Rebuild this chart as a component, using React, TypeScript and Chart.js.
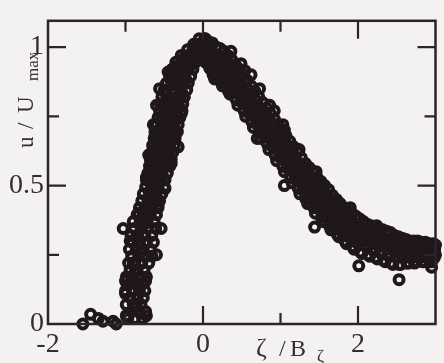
import { useEffect, useRef } from "react";
import { Chart, registerables } from "chart.js";

Chart.register(...registerables);

const xTickValues = [-2, -1, 0, 1, 2, 3];
const xTickLabels = ["-2", "", "0", "", "2", ""];
const yTickValues = [0, 0.25, 0.5, 0.75, 1];
const yTickLabels = ["0", "", "0.5", "", "1"];

// scattered points near the baseline, left of the rise
const baseScatter: [number, number][] = [
  [-1.55, 0.0], [-1.45, 0.035], [-1.35, 0.02], [-1.29, 0.01], [-1.16, 0.01], [-1.12, 0.0],
];

// rising side, lower half
const riseLower: [number, number][] = [
  [-0.97, 0.02], [-0.88, 0.02], [-0.78, 0.02],
  [-0.92, 0.045], [-0.83, 0.045], [-0.74, 0.045],
  [-0.99, 0.07], [-0.9, 0.07], [-0.8, 0.07],
  [-0.94, 0.095], [-0.85, 0.095], [-0.77, 0.095],
  [-1.0, 0.12], [-0.91, 0.12], [-0.82, 0.12], [-0.75, 0.12],
  [-0.95, 0.145], [-0.86, 0.145], [-0.78, 0.145],
  [-0.99, 0.17], [-0.9, 0.17], [-0.81, 0.17], [-0.73, 0.17],
  [-0.94, 0.195], [-0.85, 0.195], [-0.76, 0.195],
  [-0.96, 0.22], [-0.88, 0.22], [-0.79, 0.22], [-0.7, 0.22],
  [-0.92, 0.245], [-0.83, 0.245], [-0.74, 0.245], [-0.66, 0.245],
  [-0.95, 0.27], [-0.86, 0.27], [-0.77, 0.27], [-0.68, 0.27],
  [-0.91, 0.295], [-0.82, 0.295], [-0.73, 0.295], [-0.64, 0.295],
  [-0.93, 0.32], [-0.84, 0.32], [-0.75, 0.32], [-0.66, 0.32],
  [-0.89, 0.345], [-0.8, 0.345], [-0.71, 0.345], [-0.61, 0.345],
  [-0.9, 0.37], [-0.81, 0.37], [-0.72, 0.37], [-0.63, 0.37],
  [-0.85, 0.395], [-0.77, 0.395], [-0.68, 0.395], [-0.6, 0.395],
  [-0.82, 0.42], [-0.74, 0.42], [-0.66, 0.42], [-0.58, 0.42],
  [-0.79, 0.445], [-0.71, 0.445], [-0.63, 0.445], [-0.56, 0.445],
  [-0.77, 0.47], [-0.69, 0.47], [-0.61, 0.47], [-0.53, 0.47],
  [-0.74, 0.495], [-0.66, 0.495], [-0.58, 0.495], [-0.5, 0.495],
];

// rising side, upper half up to the peak
const riseUpper: [number, number][] = [
  [-0.73, 0.52], [-0.64, 0.52], [-0.56, 0.52], [-0.49, 0.52],
  [-0.71, 0.545], [-0.62, 0.545], [-0.54, 0.545], [-0.46, 0.545],
  [-0.69, 0.57], [-0.6, 0.57], [-0.52, 0.57], [-0.43, 0.57],
  [-0.68, 0.595], [-0.59, 0.595], [-0.5, 0.595], [-0.41, 0.595],
  [-0.66, 0.62], [-0.57, 0.62], [-0.48, 0.62], [-0.39, 0.62],
  [-0.65, 0.645], [-0.56, 0.645], [-0.47, 0.645], [-0.37, 0.645],
  [-0.63, 0.67], [-0.54, 0.67], [-0.45, 0.67], [-0.36, 0.67],
  [-0.62, 0.695], [-0.52, 0.695], [-0.43, 0.695], [-0.33, 0.695],
  [-0.6, 0.72], [-0.5, 0.72], [-0.41, 0.72], [-0.32, 0.72],
  [-0.58, 0.745], [-0.48, 0.745], [-0.39, 0.745], [-0.3, 0.745],
  [-0.56, 0.77], [-0.46, 0.77], [-0.37, 0.77], [-0.27, 0.77],
  [-0.55, 0.795], [-0.45, 0.795], [-0.35, 0.795], [-0.26, 0.795],
  [-0.53, 0.82], [-0.43, 0.82], [-0.33, 0.82], [-0.24, 0.82],
  [-0.5, 0.845], [-0.4, 0.845], [-0.3, 0.845], [-0.21, 0.845],
  [-0.47, 0.87], [-0.37, 0.87], [-0.28, 0.87], [-0.19, 0.87],
  [-0.43, 0.895], [-0.34, 0.895], [-0.25, 0.895], [-0.16, 0.895],
  [-0.4, 0.92], [-0.31, 0.92], [-0.22, 0.92], [-0.13, 0.92],
  [-0.35, 0.945], [-0.26, 0.945], [-0.18, 0.945], [-0.1, 0.945],
  [-0.28, 0.97], [-0.2, 0.97], [-0.12, 0.97], [-0.05, 0.97],
  [-0.2, 0.99], [-0.13, 0.99], [-0.06, 0.99], [0.0, 0.99],
  [-0.12, 1.01], [-0.06, 1.01], [0.01, 1.01],
  [-0.05, 1.03], [0.03, 1.03],
];

// extra readings filling the rising band
const riseDense: [number, number][] = [
  [-0.87, 0.06], [-0.83, 0.13], [-0.88, 0.185], [-0.8, 0.26], [-0.86, 0.31],
  [-0.76, 0.36], [-0.7, 0.41], [-0.65, 0.46],
  [-0.68, 0.533], [-0.6, 0.533], [-0.52, 0.533],
  [-0.66, 0.583], [-0.55, 0.583], [-0.46, 0.583],
  [-0.62, 0.633], [-0.52, 0.633], [-0.42, 0.633],
  [-0.59, 0.683], [-0.48, 0.683], [-0.39, 0.683],
  [-0.55, 0.733], [-0.45, 0.733], [-0.36, 0.733],
  [-0.51, 0.783], [-0.41, 0.783], [-0.31, 0.783],
  [-0.48, 0.833], [-0.37, 0.833], [-0.27, 0.833],
  [-0.42, 0.883], [-0.32, 0.883], [-0.22, 0.883],
  [-0.35, 0.93], [-0.26, 0.93], [-0.17, 0.93],
  [-0.24, 0.96], [-0.16, 0.96], [-0.08, 0.96],
  [-0.09, 1.0], [0.05, 1.0],
];

// falling side, 0 < x < 1
const fallNear: [number, number][] = [
  [0.02, 1.03], [0.04, 1.0], [0.01, 0.97], [0.035, 0.945],
  [0.07, 1.02], [0.09, 0.99], [0.06, 0.955], [0.085, 0.925],
  [0.12, 1.015], [0.11, 0.985], [0.14, 0.95], [0.1, 0.92], [0.13, 0.9],
  [0.17, 1.0], [0.19, 0.97], [0.16, 0.94], [0.185, 0.905], [0.15, 0.885],
  [0.22, 0.995], [0.21, 0.96], [0.24, 0.925], [0.2, 0.89], [0.23, 0.875],
  [0.27, 0.985], [0.29, 0.95], [0.26, 0.915], [0.285, 0.88], [0.25, 0.86],
  [0.32, 0.97], [0.31, 0.935], [0.34, 0.905], [0.3, 0.87], [0.33, 0.845],
  [0.37, 0.955], [0.39, 0.92], [0.36, 0.89], [0.385, 0.855], [0.35, 0.83],
  [0.42, 0.935], [0.41, 0.9], [0.44, 0.87], [0.4, 0.84], [0.43, 0.81],
  [0.47, 0.92], [0.49, 0.885], [0.46, 0.855], [0.485, 0.82], [0.45, 0.79],
  [0.52, 0.9], [0.51, 0.865], [0.54, 0.835], [0.5, 0.8], [0.53, 0.77],
  [0.57, 0.88], [0.59, 0.845], [0.56, 0.815], [0.585, 0.78], [0.55, 0.75],
  [0.62, 0.86], [0.61, 0.825], [0.64, 0.795], [0.6, 0.76], [0.63, 0.73],
  [0.67, 0.84], [0.69, 0.805], [0.66, 0.775], [0.685, 0.74], [0.65, 0.71],
  [0.72, 0.82], [0.71, 0.785], [0.74, 0.755], [0.7, 0.72], [0.73, 0.69],
  [0.77, 0.8], [0.79, 0.765], [0.76, 0.735], [0.785, 0.7], [0.75, 0.67],
  [0.82, 0.78], [0.81, 0.745], [0.84, 0.715], [0.8, 0.68], [0.83, 0.65],
  [0.87, 0.76], [0.89, 0.725], [0.86, 0.695], [0.885, 0.66], [0.85, 0.63],
  [0.92, 0.74], [0.91, 0.705], [0.94, 0.675], [0.9, 0.64], [0.93, 0.61],
  [0.97, 0.72], [0.99, 0.685], [0.96, 0.655], [0.985, 0.62], [0.95, 0.59],
];

// falling side, 1 < x < 2
const fallMid: [number, number][] = [
  [1.02, 0.7], [1.01, 0.665], [1.04, 0.635], [1.0, 0.6], [1.03, 0.57],
  [1.07, 0.68], [1.09, 0.645], [1.06, 0.615], [1.085, 0.58], [1.05, 0.55],
  [1.12, 0.66], [1.11, 0.625], [1.14, 0.595], [1.1, 0.56], [1.13, 0.53],
  [1.17, 0.64], [1.19, 0.605], [1.16, 0.575], [1.185, 0.54], [1.15, 0.51],
  [1.22, 0.62], [1.21, 0.585], [1.24, 0.555], [1.2, 0.52], [1.23, 0.49],
  [1.27, 0.6], [1.29, 0.565], [1.26, 0.535], [1.285, 0.5], [1.25, 0.47],
  [1.32, 0.58], [1.31, 0.545], [1.34, 0.515], [1.3, 0.48], [1.33, 0.45],
  [1.37, 0.565], [1.39, 0.53], [1.36, 0.5], [1.385, 0.465], [1.35, 0.435],
  [1.42, 0.55], [1.41, 0.515], [1.44, 0.485], [1.4, 0.45], [1.43, 0.42],
  [1.47, 0.53], [1.49, 0.495], [1.46, 0.465], [1.485, 0.43], [1.45, 0.4],
  [1.52, 0.515], [1.51, 0.48], [1.54, 0.45], [1.5, 0.415], [1.53, 0.385],
  [1.57, 0.5], [1.59, 0.465], [1.56, 0.435], [1.585, 0.4], [1.55, 0.37],
  [1.62, 0.485], [1.61, 0.45], [1.64, 0.42], [1.6, 0.385], [1.63, 0.355],
  [1.67, 0.465], [1.69, 0.435], [1.66, 0.405], [1.685, 0.37], [1.65, 0.34],
  [1.72, 0.45], [1.71, 0.42], [1.74, 0.39], [1.7, 0.355], [1.73, 0.325],
  [1.77, 0.435], [1.79, 0.405], [1.76, 0.375], [1.785, 0.345], [1.75, 0.315],
  [1.82, 0.42], [1.81, 0.39], [1.84, 0.36], [1.8, 0.33], [1.83, 0.3],
  [1.87, 0.41], [1.89, 0.38], [1.86, 0.35], [1.885, 0.32], [1.85, 0.29],
  [1.92, 0.4], [1.91, 0.37], [1.94, 0.34], [1.9, 0.31], [1.93, 0.28],
  [1.97, 0.39], [1.99, 0.36], [1.96, 0.33], [1.985, 0.3], [1.95, 0.27],
];

// falling side, tail beyond x = 2
const fallTail: [number, number][] = [
  [2.02, 0.38], [2.01, 0.35], [2.04, 0.32], [2.0, 0.29], [2.03, 0.26],
  [2.07, 0.37], [2.09, 0.34], [2.06, 0.315], [2.085, 0.285], [2.05, 0.255],
  [2.12, 0.36], [2.11, 0.335], [2.14, 0.305], [2.1, 0.28], [2.13, 0.25],
  [2.17, 0.355], [2.19, 0.325], [2.16, 0.3], [2.185, 0.27], [2.15, 0.245],
  [2.22, 0.35], [2.21, 0.32], [2.24, 0.295], [2.2, 0.265], [2.23, 0.24],
  [2.27, 0.345], [2.29, 0.315], [2.26, 0.29], [2.285, 0.26], [2.25, 0.235],
  [2.32, 0.34], [2.31, 0.31], [2.34, 0.285], [2.3, 0.255], [2.33, 0.23],
  [2.37, 0.335], [2.39, 0.305], [2.36, 0.28], [2.385, 0.25], [2.35, 0.225],
  [2.42, 0.33], [2.41, 0.3], [2.44, 0.275], [2.4, 0.245], [2.43, 0.22],
  [2.47, 0.32], [2.49, 0.295], [2.46, 0.27], [2.485, 0.245], [2.45, 0.215],
  [2.52, 0.315], [2.51, 0.29], [2.54, 0.265], [2.5, 0.24], [2.53, 0.215],
  [2.57, 0.31], [2.59, 0.285], [2.56, 0.265], [2.585, 0.24], [2.55, 0.215],
  [2.62, 0.305], [2.61, 0.285], [2.64, 0.26], [2.6, 0.24], [2.63, 0.22],
  [2.67, 0.3], [2.69, 0.28], [2.66, 0.26], [2.685, 0.24], [2.65, 0.22],
  [2.72, 0.3], [2.71, 0.28], [2.74, 0.26], [2.7, 0.24], [2.73, 0.22],
  [2.77, 0.3], [2.79, 0.28], [2.76, 0.26], [2.785, 0.24], [2.75, 0.225],
  [2.82, 0.295], [2.81, 0.275], [2.84, 0.26], [2.8, 0.24], [2.83, 0.225],
  [2.87, 0.295], [2.89, 0.275], [2.86, 0.255], [2.885, 0.24], [2.85, 0.225],
  [2.92, 0.29], [2.91, 0.27], [2.94, 0.255], [2.9, 0.24], [2.93, 0.225],
  [2.97, 0.29], [2.99, 0.27], [2.96, 0.255], [2.985, 0.24], [2.95, 0.225],
  [3.0, 0.285], [3.0, 0.25],
];

// extra readings in the densest part of the falling band
const fallDense: [number, number][] = [
  [0.05, 0.985], [0.1, 0.955], [0.15, 0.96], [0.2, 0.93], [0.25, 0.94], [0.3, 0.9],
  [0.35, 0.915], [0.4, 0.88], [0.45, 0.87], [0.5, 0.845], [0.55, 0.83], [0.6, 0.8],
  [0.65, 0.79], [0.7, 0.755], [0.75, 0.75], [0.8, 0.715], [0.85, 0.71], [0.9, 0.675],
  [0.95, 0.67], [1.0, 0.635], [1.05, 0.63], [1.1, 0.595], [1.15, 0.59], [1.2, 0.555],
  [1.25, 0.55], [1.3, 0.515], [1.35, 0.515], [1.4, 0.485], [1.45, 0.48], [1.5, 0.45],
  [1.55, 0.45], [1.6, 0.42], [1.65, 0.42], [1.7, 0.39], [1.75, 0.39], [1.8, 0.36],
  [1.85, 0.365], [1.9, 0.34], [1.95, 0.345], [2.0, 0.32], [2.05, 0.33], [2.1, 0.305],
  [2.15, 0.315], [2.2, 0.295], [2.25, 0.305], [2.3, 0.285], [2.35, 0.295], [2.4, 0.275],
  [2.45, 0.285], [2.5, 0.265], [2.55, 0.28], [2.6, 0.26], [2.65, 0.275], [2.7, 0.26],
  [2.75, 0.27], [2.8, 0.255], [2.85, 0.265], [2.9, 0.255], [2.95, 0.26],
  [0.08, 0.94], [0.18, 0.915], [0.28, 0.895], [0.38, 0.87], [0.48, 0.835], [0.58, 0.795],
  [0.68, 0.755], [0.78, 0.715], [0.88, 0.675], [0.98, 0.635], [1.08, 0.595], [1.18, 0.555],
  [1.28, 0.515], [1.38, 0.48], [1.48, 0.445], [1.58, 0.415], [1.68, 0.385], [1.78, 0.36],
  [1.88, 0.335], [1.98, 0.315], [2.08, 0.3], [2.18, 0.29], [2.28, 0.28], [2.38, 0.27],
  [2.48, 0.26], [2.58, 0.255], [2.68, 0.25], [2.78, 0.25], [2.88, 0.245], [2.98, 0.245],
];

// isolated circles along the edges of the band
const edgeOutliers: [number, number][] = [
  [-0.45, 0.91], [-0.56, 0.85], [-0.6, 0.79], [-0.28, 0.76], [-0.64, 0.72], [-0.62, 0.68],
  [-0.36, 0.68], [-0.32, 0.64], [-0.7, 0.61], [-0.73, 0.53], [-0.41, 0.58],
  [-1.03, 0.345], [-0.54, 0.345], [-0.94, 0.3], [-0.6, 0.25], [-0.9, 0.22], [-1.0, 0.155],
  [-0.74, 0.155], [-1.0, 0.11], [-0.86, 0.07], [-0.99, 0.03], [-0.73, 0.03],
  [-0.58, 0.43], [-0.68, 0.48], [-0.49, 0.49], [-0.83, 0.4],
  [0.36, 0.985], [0.49, 0.94], [0.54, 0.915], [0.62, 0.9], [0.73, 0.85], [0.86, 0.79],
  [0.92, 0.77], [1.03, 0.72], [1.05, 0.7], [1.24, 0.63], [1.46, 0.55], [1.9, 0.42],
  [2.24, 0.355], [0.33, 0.84], [0.7, 0.67], [1.05, 0.5], [1.44, 0.35], [2.01, 0.21],
  [2.53, 0.16], [2.95, 0.205],
];

const INK = "#1f171b";
const TEXT = "#332e36";
const FRAME = "#2a2528";
const BG = "#f4f2f1";
const SERIF = '"Liberation Serif", "Times New Roman", serif';

export default function App() {
  const ref = useRef<HTMLCanvasElement | null>(null);

  useEffect(() => {
    document.body.style.margin = "0";
    document.body.style.background = BG;
    const canvas = ref.current;
    if (!canvas) return;

    const groups = [
      baseScatter, riseLower, riseUpper, riseDense,
      fallNear, fallMid, fallTail, fallDense, edgeOutliers,
    ];

    const decor = {
      id: "decor",
      beforeDraw(chart: any) {
        const ctx = chart.ctx;
        ctx.save();
        ctx.fillStyle = BG;
        ctx.fillRect(0, 0, chart.width, chart.height);
        ctx.restore();
      },
      afterDraw(chart: any) {
        const ctx = chart.ctx;
        const { left, right, top, bottom } = chart.chartArea;
        const xs = chart.scales.x;
        const ys = chart.scales.y;
        ctx.save();
        ctx.strokeStyle = FRAME;
        ctx.lineWidth = 2.5;
        ctx.strokeRect(left, top, right - left, bottom - top);
        ctx.lineWidth = 2.2;
        xTickValues.forEach((v, i) => {
          if (v === -2 || v === 3) return;
          const px = xs.getPixelForValue(v);
          const len = xTickLabels[i] !== "" ? 18 : 11;
          ctx.beginPath();
          ctx.moveTo(px, bottom);
          ctx.lineTo(px, bottom - len);
          ctx.moveTo(px, top);
          ctx.lineTo(px, top + len);
          ctx.stroke();
        });
        yTickValues.forEach((v, i) => {
          if (v === 0) return;
          const py = ys.getPixelForValue(v);
          const len = yTickLabels[i] !== "" ? 18 : 11;
          ctx.beginPath();
          ctx.moveTo(left, py);
          ctx.lineTo(left + len, py);
          ctx.moveTo(right, py);
          ctx.lineTo(right - len, py);
          ctx.stroke();
        });
        ctx.fillStyle = TEXT;
        ctx.textBaseline = "alphabetic";
        ctx.textAlign = "left";
        ctx.font = `26px ${SERIF}`;
        ctx.fillText("ζ", 256, 356);
        ctx.font = `24px ${SERIF}`;
        ctx.fillText("/", 279, 356);
        ctx.fillText("B", 290, 356);
        ctx.font = `17px ${SERIF}`;
        ctx.fillText("ζ", 317, 361);
        ctx.translate(33, 148);
        ctx.rotate(-Math.PI / 2);
        ctx.font = `23px ${SERIF}`;
        ctx.fillText("u", 0, 0);
        ctx.fillText("/", 19, 0);
        ctx.fillText("U", 35, 0);
        ctx.font = `17px ${SERIF}`;
        ctx.fillText("max", 67, 5);
        ctx.restore();
      },
    };

    const chart = new Chart(canvas, {
      type: "scatter",
      data: {
        datasets: groups.map((g) => ({
          data: g.map(([x, y]) => ({ x, y })),
          showLine: false,
          clip: false as any,
          pointRadius: 4.5,
          pointHoverRadius: 4.5,
          pointBorderWidth: 4,
          pointHoverBorderWidth: 4,
          pointBorderColor: INK,
          pointBackgroundColor: "rgba(0,0,0,0)",
        })),
      },
      options: {
        animation: false,
        responsive: false,
        events: [],
        layout: { padding: { top: 10, right: 4, left: 0, bottom: 0 } },
        plugins: { legend: { display: false }, tooltip: { enabled: false } },
        scales: {
          x: {
            type: "linear",
            min: -2,
            max: 3,
            afterFit(s: any) {
              s.height = 39;
            },
            afterBuildTicks(s: any) {
              s.ticks = xTickValues.map((v) => ({ value: v }));
            },
            grid: { display: false, drawTicks: false },
            border: { display: false },
            ticks: {
              autoSkip: false,
              maxRotation: 0,
              padding: 4,
              color: TEXT,
              font: { family: SERIF, size: 28 },
              callback: (v: any) => {
                const i = xTickValues.indexOf(Number(v));
                return i >= 0 ? xTickLabels[i] : "";
              },
            },
          },
          y: {
            type: "linear",
            min: 0,
            max: 1.095,
            afterFit(s: any) {
              s.width = 48;
            },
            afterBuildTicks(s: any) {
              s.ticks = yTickValues.map((v) => ({ value: v }));
            },
            grid: { display: false, drawTicks: false },
            border: { display: false },
            ticks: {
              autoSkip: false,
              padding: 4,
              color: TEXT,
              font: { family: SERIF, size: 28 },
              callback: (v: any) => {
                const i = yTickValues.indexOf(Number(v));
                return i >= 0 ? yTickLabels[i] : "";
              },
            },
          },
        },
      } as any,
      plugins: [decor],
    });

    return () => chart.destroy();
  }, []);

  return (
    <canvas
      ref={ref}
      width={444}
      height={363}
      style={{ display: "block", position: "fixed", left: 0, top: 0, width: 444, height: 363 }}
    />
  );
}
